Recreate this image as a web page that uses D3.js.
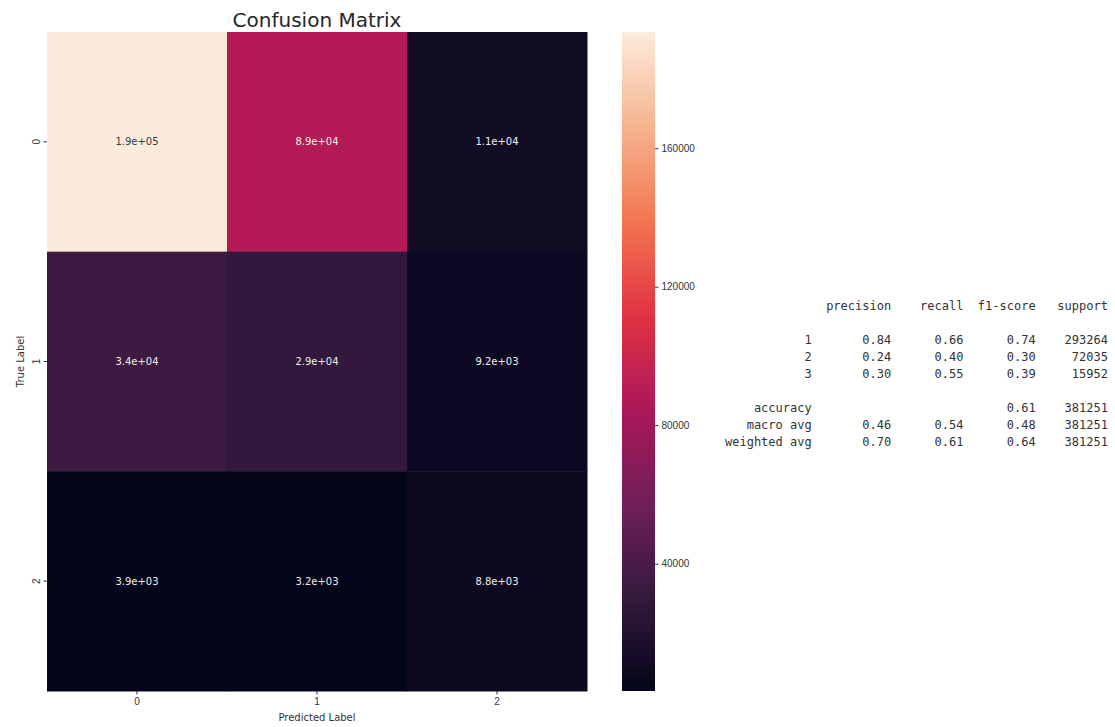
<!DOCTYPE html>
<html>
<head>
<meta charset="utf-8">
<script src="https://cdn.jsdelivr.net/npm/d3@7"></script>
<style>
  html,body{margin:0;padding:0;background:#fff;}
  svg{display:block;font-family:"DejaVu Sans",sans-serif;}
  .axis text{fill:#333;font-size:10px;}
  .axis line{stroke:#333;}
  .axis path{display:none;}
  .report text{font-family:"DejaVu Sans Mono",monospace;font-size:12px;fill:#333;white-space:pre;}
</style>
</head>
<body>
<svg id="chart" width="1115" height="727"></svg>
<script>
// confusion matrix (rows = true label, cols = predicted label)
const classes=['0','1','2'];
const row0=[193554,88700,11010];
const row1=[34000,28814,9221];
const row2=[3940,3238,8774];
const matrix=[row0,row1,row2];
const cbarTicks=[40000,80000,120000,160000];

// seaborn "rocket" colormap stops
const rocketPos=[0,1/7,2/7,3/7,4/7,5/7,6/7,1];
const rocketCol=['#03051a','#35193e','#701f57','#ad1759','#e13342','#f37651','#f6b48f','#faebdd'];

// classification report
const reportLabels=['1','2','3'];
const precision=[0.84,0.24,0.30];
const recall=[0.66,0.40,0.55];
const f1=[0.74,0.30,0.39];
const support=[293264,72035,15952];
const accuracy=0.61;
const macroAvg=[0.46,0.54,0.48];
const weightedAvg=[0.70,0.61,0.64];
const total=381251;

const svg=d3.select('#chart');
const m={l:47,r:587,t:32,b:691};

const flat=matrix.flat();
const vmin=d3.min(flat),vmax=d3.max(flat);
const tScale=d3.scaleLinear().domain([vmin,vmax]).range([0,1]);
const rocket=d3.scaleLinear().domain(rocketPos).range(rocketCol).interpolate(d3.interpolateRgb);
const color=v=>rocket(tScale(v));

const x=d3.scaleBand().domain(classes).range([m.l,m.r]);
const y=d3.scaleBand().domain(classes).range([m.t,m.b]);

function fmt(v){
  const [mant,e]=v.toExponential(1).split('e');
  return mant+'e'+e[0]+e.slice(1).padStart(2,'0');
}

const cells=[];
matrix.forEach((row,i)=>row.forEach((v,j)=>cells.push({r:classes[i],c:classes[j],v})));

svg.append('g').selectAll('rect').data(cells).join('rect')
  .attr('x',d=>x(d.c)).attr('y',d=>y(d.r))
  .attr('width',x.bandwidth()+0.5).attr('height',y.bandwidth()+0.5)
  .attr('fill',d=>color(d.v));

svg.append('g').selectAll('text').data(cells).join('text')
  .attr('x',d=>x(d.c)+x.bandwidth()/2).attr('y',d=>y(d.r)+y.bandwidth()/2)
  .attr('dy','0.35em').attr('text-anchor','middle')
  .attr('font-size',10)
  .attr('fill',d=>d3.lab(color(d.v)).l>60?'#3a3a3a':'#eeeeee')
  .text(d=>fmt(d.v));

// axes
svg.append('g').attr('class','axis').attr('transform',`translate(0,${m.b})`)
  .call(d3.axisBottom(x).tickSize(3.5).tickPadding(3));
const gy=svg.append('g').attr('class','axis').attr('transform',`translate(${m.l},0)`)
  .call(d3.axisLeft(y).tickSize(3.5));
gy.selectAll('text').attr('x',0).attr('dy',0).attr('text-anchor','middle')
  .attr('transform','translate(-7.5,0) rotate(-90)');

svg.append('text').attr('x',(m.l+m.r)/2).attr('y',27).attr('text-anchor','middle')
  .attr('font-size',20).attr('fill','#262626').text('Confusion Matrix');
svg.append('text').attr('x',(m.l+m.r)/2).attr('y',721).attr('text-anchor','middle')
  .attr('font-size',10).attr('fill','#333').text('Predicted Label');
svg.append('text').attr('transform',`translate(24,${(m.t+m.b)/2}) rotate(-90)`).attr('text-anchor','middle')
  .attr('font-size',10).attr('fill','#333').text('True Label');

// colorbar
const cb={x:622,w:33};
const cy=d3.scaleLinear().domain([vmin,vmax]).range([m.b,m.t]);
const grad=svg.append('defs').append('linearGradient').attr('id','cbGrad')
  .attr('x1','0%').attr('y1','100%').attr('x2','0%').attr('y2','0%');
d3.range(0,1.0001,0.02).forEach(t=>{
  grad.append('stop').attr('offset',(t*100)+'%').attr('stop-color',rocket(t));
});
svg.append('rect').attr('x',cb.x).attr('y',m.t).attr('width',cb.w).attr('height',m.b-m.t)
  .attr('fill','url(#cbGrad)');
svg.append('g').attr('class','axis').attr('transform',`translate(${cb.x+cb.w},0)`)
  .call(d3.axisRight(cy).tickValues(cbarTicks).tickSize(3.5).tickPadding(3).tickFormat(d3.format('d')));

// classification report text
const W=12;
const col=v=>' '+v.padStart(9);
const lines=[
  ' '.repeat(W)+' '+['precision','recall','f1-score','support'].map(col).join(''),
  '',
  ...reportLabels.map((l,i)=>l.padStart(W)+' '+[precision[i],recall[i],f1[i]].map(v=>col(v.toFixed(2))).join('')+col(String(support[i]))),
  '',
  'accuracy'.padStart(W)+' '+col('')+col('')+col(accuracy.toFixed(2))+col(String(total)),
  'macro avg'.padStart(W)+' '+macroAvg.map(v=>col(v.toFixed(2))).join('')+col(String(total)),
  'weighted avg'.padStart(W)+' '+weightedAvg.map(v=>col(v.toFixed(2))).join('')+col(String(total))
];
svg.append('g').attr('class','report').selectAll('text').data(lines).join('text')
  .attr('x',725).attr('y',(d,i)=>310+17*i)
  .attr('xml:space','preserve')
  .text(d=>d);
</script>
</body>
</html>
